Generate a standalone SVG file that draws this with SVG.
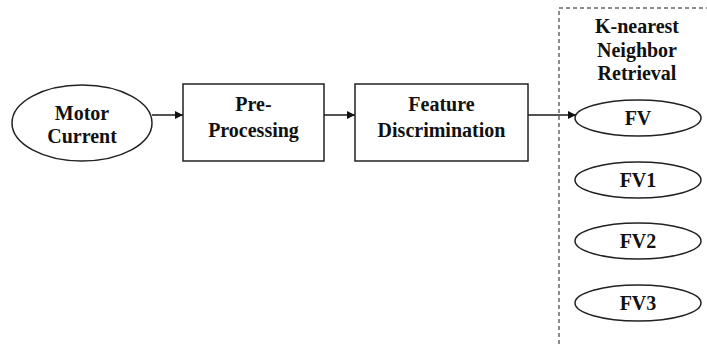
<svg xmlns="http://www.w3.org/2000/svg" width="707" height="344" viewBox="0 0 707 344">
  <defs>
    <marker id="arrow" viewBox="0 0 10 10" refX="10" refY="5" markerWidth="8" markerHeight="8" markerUnits="userSpaceOnUse" orient="auto">
      <path d="M0,0 L10,5 L0,10 z" fill="#111111"/>
    </marker>
  </defs>
  <rect width="707" height="344" fill="#ffffff"/>

  <!-- retrieval panel (dashed) -->
  <g id="knn-panel">
    <path d="M559,344 L559,8 L707,8" fill="none" stroke="#1a1a1a" stroke-width="1" stroke-dasharray="4 3"/>
    <g font-family="Liberation Serif" font-weight="bold" font-size="20" fill="#111111" text-anchor="middle">
      <text x="637" y="33">K-nearest</text>
      <text x="637" y="57">Neighbor</text>
      <text x="637" y="80">Retrieval</text>
    </g>
  </g>

  <g id="motor-current" font-family="Liberation Serif" font-weight="bold" font-size="20" text-anchor="middle">
    <ellipse cx="82" cy="123" rx="70" ry="38" fill="#ffffff" stroke="#222222" stroke-width="1.5"/>
    <text x="82" y="120" fill="#111111">Motor</text>
    <text x="82" y="143" fill="#111111">Current</text>
  </g>

  <g id="pre-processing" font-family="Liberation Serif" font-weight="bold" font-size="20" text-anchor="middle">
    <rect x="183" y="84" width="141" height="77" fill="#ffffff" stroke="#222222" stroke-width="1.5"/>
    <text x="253.5" y="111" fill="#111111">Pre-</text>
    <text x="253.5" y="137" fill="#111111">Processing</text>
  </g>

  <g id="feature-discrimination" font-family="Liberation Serif" font-weight="bold" font-size="20" text-anchor="middle">
    <rect x="355" y="84" width="173" height="77" fill="#ffffff" stroke="#222222" stroke-width="1.5"/>
    <text x="441.5" y="111" fill="#111111">Feature</text>
    <text x="441.5" y="137" fill="#111111">Discrimination</text>
  </g>

  <g id="fv" font-family="Liberation Serif" font-weight="bold" font-size="20" text-anchor="middle">
    <ellipse cx="638" cy="118" rx="63" ry="18" fill="#ffffff" stroke="#222222" stroke-width="1.5"/>
    <text x="638" y="125" fill="#111111">FV</text>
  </g>
  <g id="fv1" font-family="Liberation Serif" font-weight="bold" font-size="20" text-anchor="middle">
    <ellipse cx="638" cy="180" rx="63" ry="18" fill="#ffffff" stroke="#222222" stroke-width="1.5"/>
    <text x="638" y="187" fill="#111111">FV1</text>
  </g>
  <g id="fv2" font-family="Liberation Serif" font-weight="bold" font-size="20" text-anchor="middle">
    <ellipse cx="638" cy="241" rx="63" ry="18" fill="#ffffff" stroke="#222222" stroke-width="1.5"/>
    <text x="638" y="248" fill="#111111">FV2</text>
  </g>
  <g id="fv3" font-family="Liberation Serif" font-weight="bold" font-size="20" text-anchor="middle">
    <ellipse cx="638" cy="303" rx="63" ry="18" fill="#ffffff" stroke="#222222" stroke-width="1.5"/>
    <text x="638" y="310" fill="#111111">FV3</text>
  </g>

  <g id="connectors" stroke="#1a1a1a" stroke-width="1.5" fill="none" marker-end="url(#arrow)">
    <line x1="152" y1="115" x2="183" y2="115"/>
    <line x1="324" y1="115" x2="355" y2="115"/>
    <line x1="528" y1="115" x2="576" y2="115"/>
  </g>
</svg>
